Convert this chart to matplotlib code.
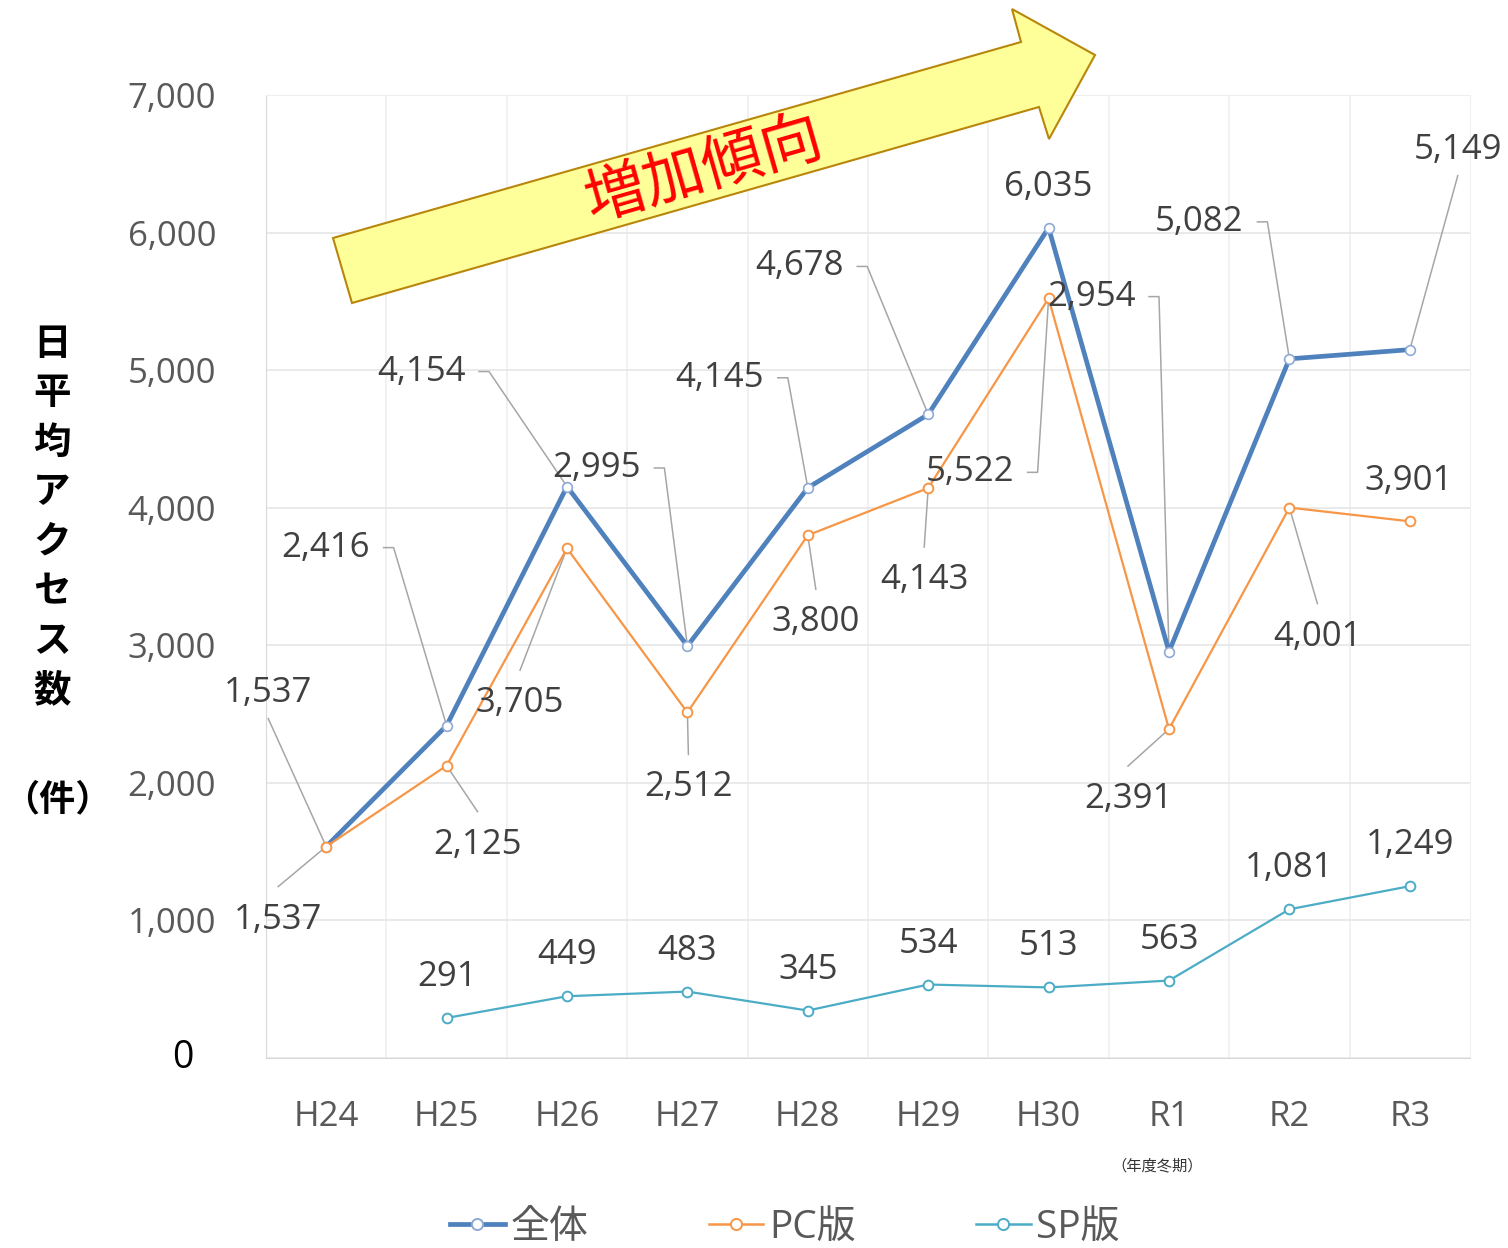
import numpy as np
import matplotlib
matplotlib.use('Agg')
import matplotlib.pyplot as plt
from matplotlib.patches import Polygon
from matplotlib.lines import Line2D

plt.rcParams['font.family'] = ['Open Sans', 'Noto Sans CJK JP', 'DejaVu Sans']

# data
years = ['H24', 'H25', 'H26', 'H27', 'H28', 'H29', 'H30', 'R1', 'R2', 'R3']
total = [1537, 2416, 4154, 2995, 4145, 4678, 6035, 2954, 5082, 5149]
pc = [1537, 2125, 3705, 2512, 3800, 4143, 5522, 2391, 4001, 3901]
sp = [np.nan, 291, 449, 483, 345, 534, 513, 563, 1081, 1249]

# label placement (pixel offsets from the point, y down) and leader style
total_off = [(-58, -154), (-121, -178), (-146, -115), (-91, -178), (-88, -110),
             (-129, -148), (0, -41), (-78, -355), (-90, -137), (48, -200)]
total_lead = ['b', 'r', 'r', 'r', 'r', 'r', None, 'r', 'r', 'b']
pc_off = [(-48, 73), (31, 79), (-47, 155), (1, 75), (8, 87),
          (-4, 92), (-79, 174), (-41, 70), (28, 129), (-1, -40)]
pc_lead = ['t', 't', 't', 't', 't', 't', 'r', 't', 't', None]

BLUE = '#4F81BD'
ORANGE = '#F79646'
TEAL = '#4BACC6'
GRAY_TXT = '#404040'

fig = plt.figure(figsize=(15.08, 12.48), dpi=100)
ax = fig.add_axes([266 / 1508, 1 - 1058 / 1248, (1470 - 266) / 1508, (1058 - 95) / 1248])

x = np.arange(len(years))
ax.set_xlim(-0.5, len(years) - 0.5)
ax.set_ylim(0, 7000)

# pixel -> data scale
PX = 1 / 120.44
PY = 7000 / 963

ax.plot(x, total, color=BLUE, lw=3.4, marker='o', ms=7, mfc='white', mec='#8EA9D6', mew=1.2, zorder=4)
ax.plot(x, pc, color=ORANGE, lw=1.6, marker='o', ms=7, mfc='white', mec=ORANGE, mew=1.4, zorder=5)
ax.plot(x, sp, color=TEAL, lw=1.6, marker='o', ms=7, mfc='white', mec=TEAL, mew=1.4, zorder=5)


def put_label(i, v, dx, dy, lead):
    tx, ty = i + dx * PX, v - dy * PY
    ax.text(tx, ty, f'{v:,}', ha='center', va='center', fontsize=25, color=GRAY_TXT, zorder=6)
    if lead == 'r':
        xs = [dx + 58, dx + 68, 0]
        ys = [dy, dy, 0]
    elif lead == 'b':
        xs = [dx, 0]
        ys = [dy + 26, 0]
    elif lead == 't':
        xs = [dx, 0]
        ys = [dy - 33, 0]
    else:
        return
    ax.plot([i + a * PX for a in xs], [v - b * PY for b in ys], color='#A6A6A6', lw=1.1,
            clip_on=False, zorder=3)


for i in range(len(years)):
    put_label(i, total[i], *total_off[i], total_lead[i])
    put_label(i, pc[i], *pc_off[i], pc_lead[i])
    if not np.isnan(sp[i]):
        ax.text(i, sp[i] + 41 * PY, f'{int(sp[i]):,}', ha='center', va='center',
                fontsize=25, color=GRAY_TXT, zorder=6)

# axes styling
ax.set_yticks(range(0, 7001, 1000))
ax.set_yticklabels([''] + [f'{v:,}' for v in range(1000, 7001, 1000)])
ax.set_xticks(x)
ax.set_xticklabels(years)
ax.set_xticks(np.arange(0.5, len(years) - 0.5, 1), minor=True)
ax.tick_params(axis='y', length=0, pad=36, labelsize=25, labelcolor='#595959')
ax.tick_params(axis='x', length=0, pad=30, labelsize=25, labelcolor='#595959')
ax.tick_params(axis='x', which='minor', length=0)
ax.grid(axis='y', color='#E6E6E6', lw=1.2)
ax.grid(axis='x', which='minor', color='#EFEFEF', lw=1.2)
ax.set_axisbelow(True)
for s in ['top', 'right']:
    ax.spines[s].set_color('#EFEFEF')
for s in ['left', 'bottom']:
    ax.spines[s].set_color('#D9D9D9')
ax.text(-0.5 - 83 * PX, 0, '0', ha='center', va='center', fontsize=27, color='black', clip_on=False)

ax.text(7 - 12 * PX, -108 * PY, '（年度冬期）', ha='center', va='center', fontsize=11, color='#333333',
        family=['Noto Sans CJK JP'])

# y axis title, written vertically
for k, ch in enumerate('日平均アクセス数'):
    fig.text(52 / 1508, 1 - (343 + k * 49.6) / 1248, ch, ha='center', va='center', fontsize=27,
             fontweight='bold', family=['Noto Sans CJK JP'])
fig.text(57 / 1508, 1 - 800 / 1248, '（件）', ha='center', va='center', fontsize=26,
         fontweight='bold', family=['Noto Sans CJK JP'])

# trend arrow
arrow_px = [(352, 303), (333, 238), (1021, 42), (1012, 9), (1095, 55), (1049, 139), (1039, 107)]
arrow = Polygon([(a / 1508, 1 - b / 1248) for a, b in arrow_px], closed=True,
                transform=fig.transFigure, facecolor='#FFFF99', edgecolor='#B8860B', lw=1.5)
fig.add_artist(arrow)
fig.text(704 / 1508, 1 - 170 / 1248, '増加傾向', ha='center', va='center', rotation=16, fontsize=44,
         color='#FF0000', family=['Noto Sans CJK JP'])

# legend
handles = [Line2D([], [], color=c, lw=w, marker='o', ms=8, mfc='white', mec=m, mew=1.4)
           for c, w, m in [(BLUE, 3.4, '#8EA9D6'), (ORANGE, 1.8, ORANGE), (TEAL, 1.8, TEAL)]]
leg = fig.legend(handles, ['全体', 'PC版', 'SP版'], loc='center', bbox_to_anchor=(785 / 1508, 1 - 1228 / 1248),
                 ncol=3, frameon=False, fontsize=28, handlelength=1.4, handletextpad=0.15,
                 columnspacing=3.1, labelcolor='#595959')

fig.savefig('out.png', dpi=100)
